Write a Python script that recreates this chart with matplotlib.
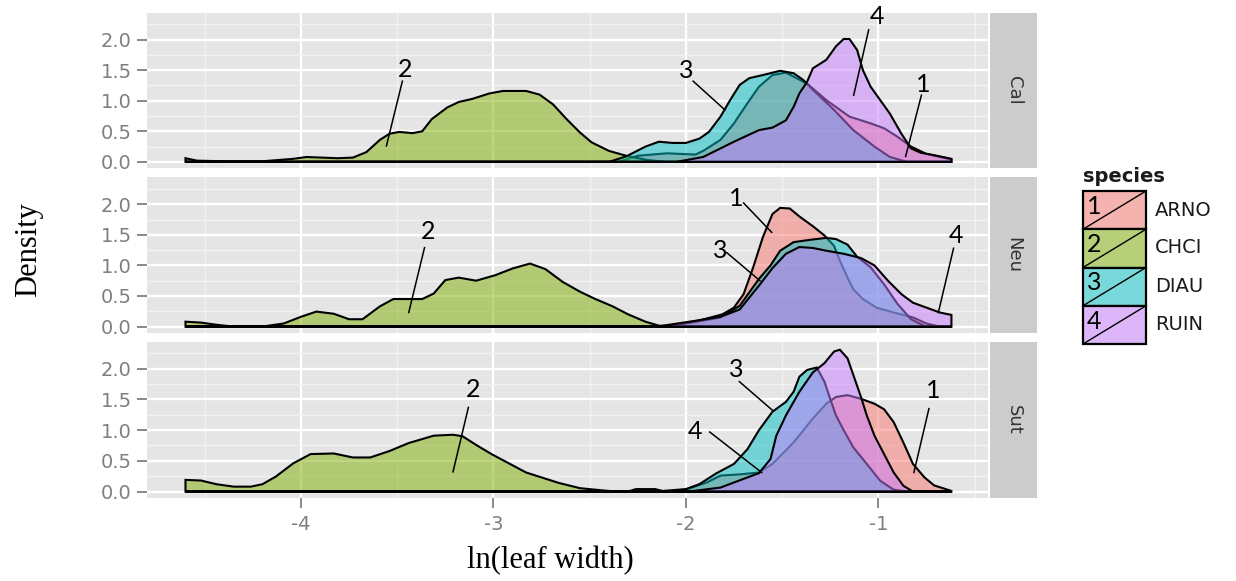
import numpy as np
import matplotlib.pyplot as plt
from matplotlib.colors import to_rgba
from matplotlib.patches import Rectangle

# species order = ggplot draw order
species = ["ARNO", "CHCI", "DIAU", "RUIN"]
sites = ["Cal", "Neu", "Sut"]
colors = ["#F8766D", "#7CAE00", "#00BFC4", "#C77CFF"]

x_ticks = [-4, -3, -2, -1]
y_ticks = [0.0, 0.5, 1.0, 1.5, 2.0]

# ---- densities (x = ln(leaf width), y = density) ----
# Cal
cal_arno_x = [-4.60, -2.35, -2.25, -2.10, -1.95, -1.91, -1.82, -1.75, -1.68, -1.62, -1.55, -1.48, -1.37,
              -1.27, -1.15, -1.04, -0.97, -0.90, -0.83, -0.75, -0.62]
cal_arno_y = [0.00, 0.00, 0.10, 0.14, 0.12, 0.18, 0.36, 0.63, 0.96, 1.23, 1.42, 1.46, 1.28,
              1.01, 0.74, 0.63, 0.55, 0.41, 0.25, 0.13, 0.04]
cal_chci_x = [-4.60, -4.54, -4.40, -4.20, -4.04, -3.97, -3.81, -3.73, -3.66, -3.59, -3.54, -3.49, -3.42,
              -3.37, -3.32, -3.24, -3.18, -3.11, -3.02, -2.95, -2.83, -2.76, -2.69, -2.62, -2.55, -2.49,
              -2.40, -2.31, -2.20, -2.10, -0.62]
cal_chci_y = [0.06, 0.02, 0.01, 0.01, 0.05, 0.08, 0.06, 0.07, 0.16, 0.36, 0.46, 0.49, 0.47,
              0.50, 0.70, 0.89, 0.98, 1.03, 1.12, 1.16, 1.16, 1.10, 0.94, 0.70, 0.48, 0.32,
              0.18, 0.10, 0.03, 0.00, 0.00]
cal_diau_x = [-4.60, -2.40, -2.31, -2.21, -2.14, -2.07, -2.00, -1.93, -1.88, -1.82, -1.77, -1.72, -1.67,
              -1.60, -1.51, -1.44, -1.39, -1.34, -1.23, -1.13, -1.02, -0.94, -0.85, -0.62]
cal_diau_y = [0.00, 0.00, 0.09, 0.25, 0.33, 0.31, 0.31, 0.38, 0.49, 0.74, 1.01, 1.26, 1.37,
              1.42, 1.49, 1.45, 1.34, 1.18, 0.85, 0.52, 0.25, 0.08, 0.00, 0.00]
cal_ruin_x = [-4.60, -2.05, -1.91, -1.75, -1.62, -1.55, -1.48, -1.44, -1.41, -1.37, -1.34, -1.27, -1.22,
              -1.18, -1.15, -1.11, -1.08, -1.04, -0.99, -0.94, -0.88, -0.83, -0.78, -0.71, -0.62]
cal_ruin_y = [0.00, 0.00, 0.08, 0.33, 0.52, 0.56, 0.68, 0.90, 1.12, 1.31, 1.53, 1.67, 1.89,
              2.01, 2.01, 1.83, 1.50, 1.23, 1.01, 0.79, 0.46, 0.22, 0.15, 0.11, 0.05]

# Neu
neu_arno_x = [-4.60, -2.15, -2.03, -1.93, -1.81, -1.75, -1.70, -1.65, -1.60, -1.55, -1.51, -1.46, -1.41,
              -1.34, -1.28, -1.23, -1.20, -1.16, -1.13, -1.08, -1.01, -0.92, -0.82, -0.75, -0.68, -0.62]
neu_arno_y = [0.00, 0.00, 0.04, 0.10, 0.20, 0.31, 0.53, 0.97, 1.46, 1.84, 1.94, 1.93, 1.80,
              1.64, 1.49, 1.32, 1.08, 0.80, 0.61, 0.45, 0.31, 0.23, 0.15, 0.05, 0.00, 0.00]
neu_chci_x = [-4.60, -4.52, -4.44, -4.35, -4.18, -4.09, -4.00, -3.92, -3.83, -3.75, -3.68, -3.59, -3.52,
              -3.37, -3.31, -3.25, -3.18, -3.09, -2.99, -2.90, -2.81, -2.73, -2.64, -2.55, -2.47, -2.38,
              -2.30, -2.21, -2.14, -2.07, -0.62]
neu_chci_y = [0.08, 0.065, 0.03, 0.00, 0.01, 0.05, 0.16, 0.245, 0.21, 0.12, 0.12, 0.33, 0.45,
              0.45, 0.54, 0.76, 0.80, 0.75, 0.84, 0.95, 1.03, 0.94, 0.73, 0.57, 0.45, 0.33,
              0.20, 0.08, 0.015, 0.00, 0.00]
neu_diau_x = [-4.60, -2.10, -1.96, -1.82, -1.72, -1.67, -1.62, -1.56, -1.51, -1.44, -1.35, -1.27, -1.22,
              -1.16, -1.11, -1.04, -0.97, -0.90, -0.83, -0.76, -0.62]
neu_diau_y = [0.00, 0.00, 0.07, 0.15, 0.34, 0.56, 0.78, 1.00, 1.24, 1.38, 1.42, 1.45, 1.43,
              1.34, 1.14, 0.97, 0.69, 0.37, 0.12, 0.01, 0.00]
neu_ruin_x = [-4.60, -2.15, -1.96, -1.82, -1.72, -1.62, -1.55, -1.48, -1.41, -1.34, -1.27, -1.18, -1.09,
              -1.02, -0.95, -0.88, -0.82, -0.75, -0.68, -0.62]
neu_ruin_y = [0.00, 0.00, 0.09, 0.16, 0.28, 0.67, 0.955, 1.19, 1.30, 1.285, 1.24, 1.19, 1.12,
              1.00, 0.75, 0.53, 0.39, 0.31, 0.23, 0.19]

# Sut
sut_arno_x = [-4.60, -2.10, -2.00, -1.89, -1.82, -1.72, -1.62, -1.55, -1.44, -1.34, -1.27, -1.22, -1.16,
              -1.09, -1.02, -0.97, -0.92, -0.87, -0.82, -0.76, -0.71, -0.62]
sut_arno_y = [0.00, 0.00, 0.03, 0.15, 0.26, 0.28, 0.31, 0.45, 0.80, 1.19, 1.43, 1.54, 1.57,
              1.51, 1.43, 1.34, 1.13, 0.80, 0.45, 0.23, 0.10, 0.01]
sut_chci_x = [-4.60, -4.52, -4.44, -4.35, -4.26, -4.20, -4.13, -4.04, -3.95, -3.83, -3.73, -3.64, -3.54,
              -3.44, -3.31, -3.21, -3.16, -3.09, -3.01, -2.92, -2.83, -2.74, -2.66, -2.55, -2.42, -2.35, -0.62]
sut_chci_y = [0.19, 0.18, 0.12, 0.08, 0.08, 0.12, 0.245, 0.46, 0.61, 0.62, 0.555, 0.555, 0.66,
              0.79, 0.91, 0.925, 0.90, 0.76, 0.61, 0.46, 0.31, 0.22, 0.14, 0.055, 0.015, 0.00, 0.00]
sut_diau_x = [-4.60, -2.30, -2.26, -2.16, -2.12, -2.00, -1.93, -1.84, -1.75, -1.68, -1.62, -1.55, -1.48,
              -1.44, -1.41, -1.37, -1.32, -1.28, -1.25, -1.22, -1.18, -1.13, -1.06, -0.99, -0.92, -0.85, -0.62]
sut_diau_y = [0.00, 0.00, 0.04, 0.04, 0.01, 0.04, 0.12, 0.30, 0.45, 0.69, 1.00, 1.30, 1.46,
              1.625, 1.87, 1.98, 2.02, 1.79, 1.51, 1.24, 1.00, 0.72, 0.45, 0.175, 0.03, 0.00, 0.00]
sut_ruin_x = [-4.60, -2.05, -1.96, -1.82, -1.68, -1.62, -1.56, -1.53, -1.48, -1.41, -1.34, -1.28, -1.23,
              -1.20, -1.16, -1.13, -1.09, -1.06, -1.02, -0.97, -0.92, -0.87, -0.82, -0.62]
sut_ruin_y = [0.00, 0.00, 0.01, 0.065, 0.23, 0.30, 0.53, 0.91, 1.24, 1.625, 1.94, 2.09, 2.28,
              2.31, 2.17, 1.90, 1.54, 1.24, 0.91, 0.61, 0.31, 0.095, 0.00, 0.00]

curves = {
    "Cal": [(cal_arno_x, cal_arno_y), (cal_chci_x, cal_chci_y), (cal_diau_x, cal_diau_y), (cal_ruin_x, cal_ruin_y)],
    "Neu": [(neu_arno_x, neu_arno_y), (neu_chci_x, neu_chci_y), (neu_diau_x, neu_diau_y), (neu_ruin_x, neu_ruin_y)],
    "Sut": [(sut_arno_x, sut_arno_y), (sut_chci_x, sut_chci_y), (sut_diau_x, sut_diau_y), (sut_ruin_x, sut_ruin_y)],
}

# hand-drawn number labels: (text, text pos, leader start, leader end)
notes = {
    "Cal": [("2", (-3.46, 1.51), (-3.473, 1.32), (-3.556, 0.26)),
            ("3", (-2.00, 1.49), (-1.962, 1.32), (-1.797, 0.85)),
            ("4", (-1.008, 2.38), (-1.05, 2.16), (-1.128, 1.09)),
            ("1", (-0.766, 1.27), (-0.776, 1.09), (-0.858, 0.09))],
    "Neu": [("2", (-3.34, 1.55), (-3.358, 1.29), (-3.44, 0.23)),
            ("1", (-1.736, 2.09), (-1.70, 2.02), (-1.554, 1.54)),
            ("3", (-1.82, 1.24), (-1.788, 1.21), (-1.615, 0.75)),
            ("4", (-0.597, 1.49), (-0.609, 1.28), (-0.688, 0.23))],
    "Sut": [("2", (-3.104, 1.66), (-3.13, 1.37), (-3.21, 0.32)),
            ("3", (-1.736, 1.98), (-1.722, 1.79), (-1.545, 1.31)),
            ("4", (-1.953, 0.97), (-1.876, 0.97), (-1.606, 0.31)),
            ("1", (-0.714, 1.65), (-0.737, 1.35), (-0.815, 0.31))],
}

W, H = 1236, 581
fig = plt.figure(figsize=(W / 100, H / 100), dpi=100)


def px_axes(x0, y0, x1, y1):
    return fig.add_axes([x0 / W, 1 - y1 / H, (x1 - x0) / W, (y1 - y0) / H])


panel_rows = [(12.7, 168.3), (177.3, 333.0), (341.7, 498.0)]
num_font = "Lato"

for i, site in enumerate(sites):
    top, bot = panel_rows[i]
    ax = px_axes(147, top, 988, bot)
    ax.set_facecolor("#E5E5E5")
    for s in ax.spines.values():
        s.set_visible(False)
    ax.set_xlim(-4.80, -0.43)
    ax.set_ylim(-0.105, 2.44)
    ax.set_xticks(x_ticks)
    ax.set_xticks([-4.5, -3.5, -2.5, -1.5, -0.5], minor=True)
    ax.set_yticks(y_ticks)
    ax.set_yticks([0.25, 0.75, 1.25, 1.75, 2.25], minor=True)
    ax.set_yticklabels([f"{v:.1f}" for v in y_ticks])
    ax.grid(which="major", color="white", lw=1.7)
    ax.grid(which="minor", color="#F2F2F2", lw=1.0)
    ax.set_axisbelow(True)
    ax.tick_params(which="minor", length=0)
    ax.tick_params(which="major", color="#7F7F7F", width=1.3, length=7,
                   labelcolor="#7F7F7F", labelsize=14, pad=4)
    if i < 2:
        ax.tick_params(axis="x", which="both", length=0, labelbottom=False)
    else:
        ax.set_xticklabels([str(v) for v in x_ticks])
        ax.tick_params(axis="x", pad=5)

    for (xs, ys), c in zip(curves[site], colors):
        xs = np.asarray(xs)
        ys = np.asarray(ys)
        px = np.r_[xs, xs[-1], xs[0]]
        py = np.r_[ys, 0, 0]
        ax.fill(px, py, facecolor=to_rgba(c, 0.5), edgecolor="black", lw=1.5, zorder=3)

    for lab, (tx, ty), (x0, y0), (x1, y1) in notes[site]:
        ax.plot([x0, x1], [y0, y1], color="black", lw=1.1, zorder=5)
        ax.text(tx, ty, lab, ha="center", va="center", fontsize=18,
                family=num_font, zorder=6)

    # facet strip on the right
    sax = px_axes(990, top, 1037, bot)
    sax.set_facecolor("#CCCCCC")
    sax.set_xticks([])
    sax.set_yticks([])
    for s in sax.spines.values():
        s.set_visible(False)
    sax.text(0.5, 0.5, site, rotation=-90, ha="center", va="center",
             fontsize=13, color="#333333", transform=sax.transAxes)

# legend
lax = px_axes(1083, 191, 1146, 344)
lax.set_xlim(0, 1)
lax.set_ylim(4, 0)
lax.set_axis_off()
key_centres = [210, 248, 287, 325]
for k, (name, c) in enumerate(zip(species, colors)):
    lax.add_patch(Rectangle((0, k), 1, 1, facecolor="#F2F2F2", edgecolor="none", clip_on=False))
    lax.add_patch(Rectangle((0, k), 1, 1, facecolor=to_rgba(c, 0.5), edgecolor="black",
                            lw=1.6, clip_on=False))
    lax.plot([0, 1], [k + 1, k], color="black", lw=1.0, clip_on=False)
    lax.text(0.06, k + 0.40, str(k + 1), ha="left", va="center", fontsize=18, family=num_font)
    fig.text(1155 / W, 1 - key_centres[k] / H, name, ha="left", va="center",
             fontsize=14, color="#1A1A1A")
fig.text(1083 / W, 1 - 177 / H, "species", ha="left", va="center",
         fontsize=14, fontweight="bold", color="#1A1A1A")

fig.text(29 / W, 1 - 250 / H, "Density", rotation=90, ha="center", va="center",
         family="Liberation Serif", fontsize=22)
fig.text(550 / W, 1 - 561 / H, "ln(leaf width)", ha="center", va="center",
         family="Liberation Serif", fontsize=22)

fig.savefig("out.png", dpi=100)
